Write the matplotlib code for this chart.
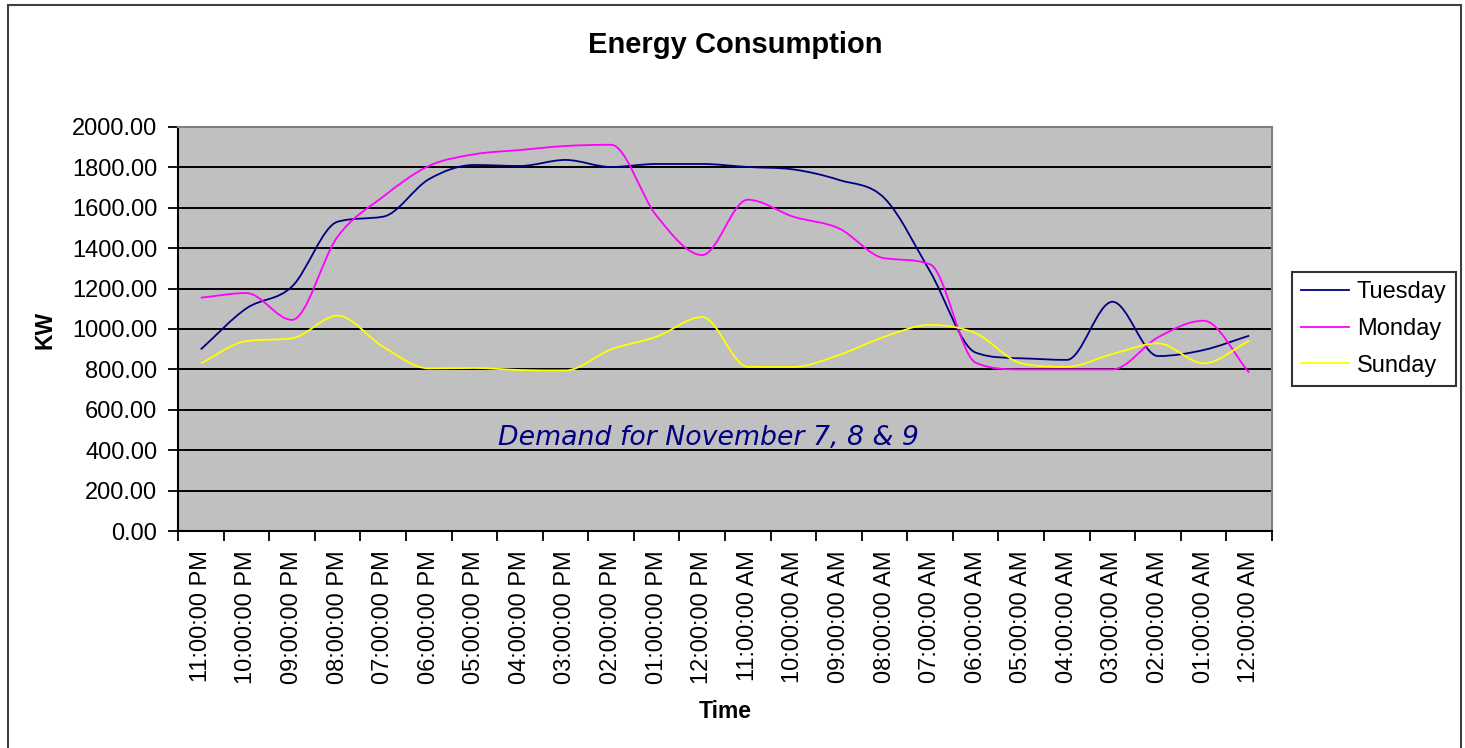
import numpy as np
import matplotlib
matplotlib.use('Agg')
import matplotlib.pyplot as plt
from matplotlib.path import Path
from matplotlib.patches import PathPatch, Rectangle
from matplotlib.lines import Line2D

hours = ['11:00:00 PM', '10:00:00 PM', '09:00:00 PM', '08:00:00 PM', '07:00:00 PM',
         '06:00:00 PM', '05:00:00 PM', '04:00:00 PM', '03:00:00 PM', '02:00:00 PM',
         '01:00:00 PM', '12:00:00 PM', '11:00:00 AM', '10:00:00 AM', '09:00:00 AM',
         '08:00:00 AM', '07:00:00 AM', '06:00:00 AM', '05:00:00 AM', '04:00:00 AM',
         '03:00:00 AM', '02:00:00 AM', '01:00:00 AM', '12:00:00 AM']

tuesday = [899, 1102, 1210, 1531, 1556, 1741, 1812, 1807, 1837, 1802, 1817, 1817,
           1802, 1790, 1738, 1647, 1284, 883, 855, 847, 1135, 866, 896, 967]
monday = [1155, 1178, 1045, 1457, 1655, 1807, 1865, 1886, 1906, 1912, 1560, 1366,
          1640, 1556, 1498, 1350, 1320, 833, 800, 800, 800, 959, 1041, 784]
sunday = [830, 940, 954, 1066, 912, 805, 807, 797, 795, 899, 962, 1059,
          813, 812, 871, 962, 1020, 979, 830, 813, 876, 929, 830, 942]

series = [('Tuesday', tuesday, '#000080'),
          ('Monday', monday, '#FF00FF'),
          ('Sunday', sunday, '#FFFF00')]


def smooth_path(xs, ys):
    """Smoothed line drawn as cubic Bezier segments (monotone tangents, no overshoot)."""
    xs = np.asarray(xs, float)
    ys = np.asarray(ys, float)
    h = np.diff(xs)
    d = np.diff(ys) / h
    m = np.empty_like(ys)
    m[0], m[-1] = d[0], d[-1]
    m[1:-1] = (d[:-1] + d[1:]) / 2
    m[1:-1][d[:-1] * d[1:] <= 0] = 0
    for k in range(len(d)):
        if d[k] == 0:
            m[k] = m[k + 1] = 0
            continue
        a, b = m[k] / d[k], m[k + 1] / d[k]
        s = a * a + b * b
        if s > 9:
            t = 3 / np.sqrt(s)
            m[k], m[k + 1] = t * a * d[k], t * b * d[k]
    verts = [(xs[0], ys[0])]
    codes = [Path.MOVETO]
    for k in range(len(d)):
        verts += [(xs[k] + h[k] / 3, ys[k] + m[k] * h[k] / 3),
                  (xs[k + 1] - h[k] / 3, ys[k + 1] - m[k + 1] * h[k] / 3),
                  (xs[k + 1], ys[k + 1])]
        codes += [Path.CURVE4] * 3
    return Path(verts, codes)


plt.rcParams['font.family'] = ['Liberation Sans', 'DejaVu Sans']

fig = plt.figure(figsize=(14.65, 7.48), dpi=100)
ax = fig.add_axes([178 / 1465, 1 - 531 / 748, 1094 / 1465, 404 / 748])
ax.set_facecolor('#C0C0C0')

x = np.arange(len(hours))
for name, vals, color in series:
    ax.add_patch(PathPatch(smooth_path(x, vals), facecolor='none', edgecolor=color,
                           linewidth=1.3, zorder=3))

ax.set_xlim(-0.5, len(hours) - 0.5)
ax.set_ylim(0, 2000)
ax.set_yticks(np.arange(0, 2001, 200))
ax.set_yticklabels([f'{v:.2f}' for v in np.arange(0, 2001, 200)], fontsize=17)
ax.set_xticks(x)
ax.set_xticklabels(hours, rotation=90, fontsize=17)
ax.set_xticks(np.arange(-0.5, len(hours), 1), minor=True)
ax.tick_params(axis='x', which='major', length=0, pad=14)
ax.tick_params(axis='x', which='minor', length=7, width=1.3, direction='out')
ax.tick_params(axis='y', length=7, width=1.3, direction='out', pad=8)
ax.yaxis.grid(True, color='black', linewidth=1.4)
ax.set_axisbelow(True)

for side in ['top', 'right']:
    ax.spines[side].set_color('#808080')
    ax.spines[side].set_linewidth(1.5)
for side in ['left', 'bottom']:
    ax.spines[side].set_color('black')
    ax.spines[side].set_linewidth(1.5)

ax.text((498 - 178) / 1094, (531 - 438) / 404, 'Demand for November 7, 8 & 9',
        transform=ax.transAxes, ha='left', va='center', fontsize=19.3,
        style='italic', color='#000080', family='DejaVu Sans')

fig.text(735 / 1465, 1 - 45 / 748, 'Energy Consumption', ha='center', va='center',
         fontsize=21, fontweight='bold')
fig.text(45 / 1465, 1 - 330 / 748, 'KW', ha='center', va='center', rotation=90,
         fontsize=16.5, fontweight='bold')
fig.text(725 / 1465, 1 - 712 / 748, 'Time', ha='center', va='center',
         fontsize=16.5, fontweight='bold')

handles = [Line2D([], [], color=c, linewidth=1.3) for _, _, c in series]
leg = fig.legend(handles, [n for n, _, _ in series], loc='center left',
                 bbox_to_anchor=(1292 / 1465, 1 - 329 / 748), fontsize=17,
                 frameon=True, fancybox=False, edgecolor='black', borderaxespad=0,
                 handlelength=2.0, handletextpad=0.35, labelspacing=0.62, borderpad=0.4)
leg.get_frame().set_linewidth(1.5)

fig.patches.append(Rectangle((8 / 1465, -0.02), 1453 / 1465, 1.02 - 5 / 748,
                             transform=fig.transFigure, fill=False,
                             edgecolor='#404040', linewidth=1.5))

fig.savefig('out.png', dpi=100)
